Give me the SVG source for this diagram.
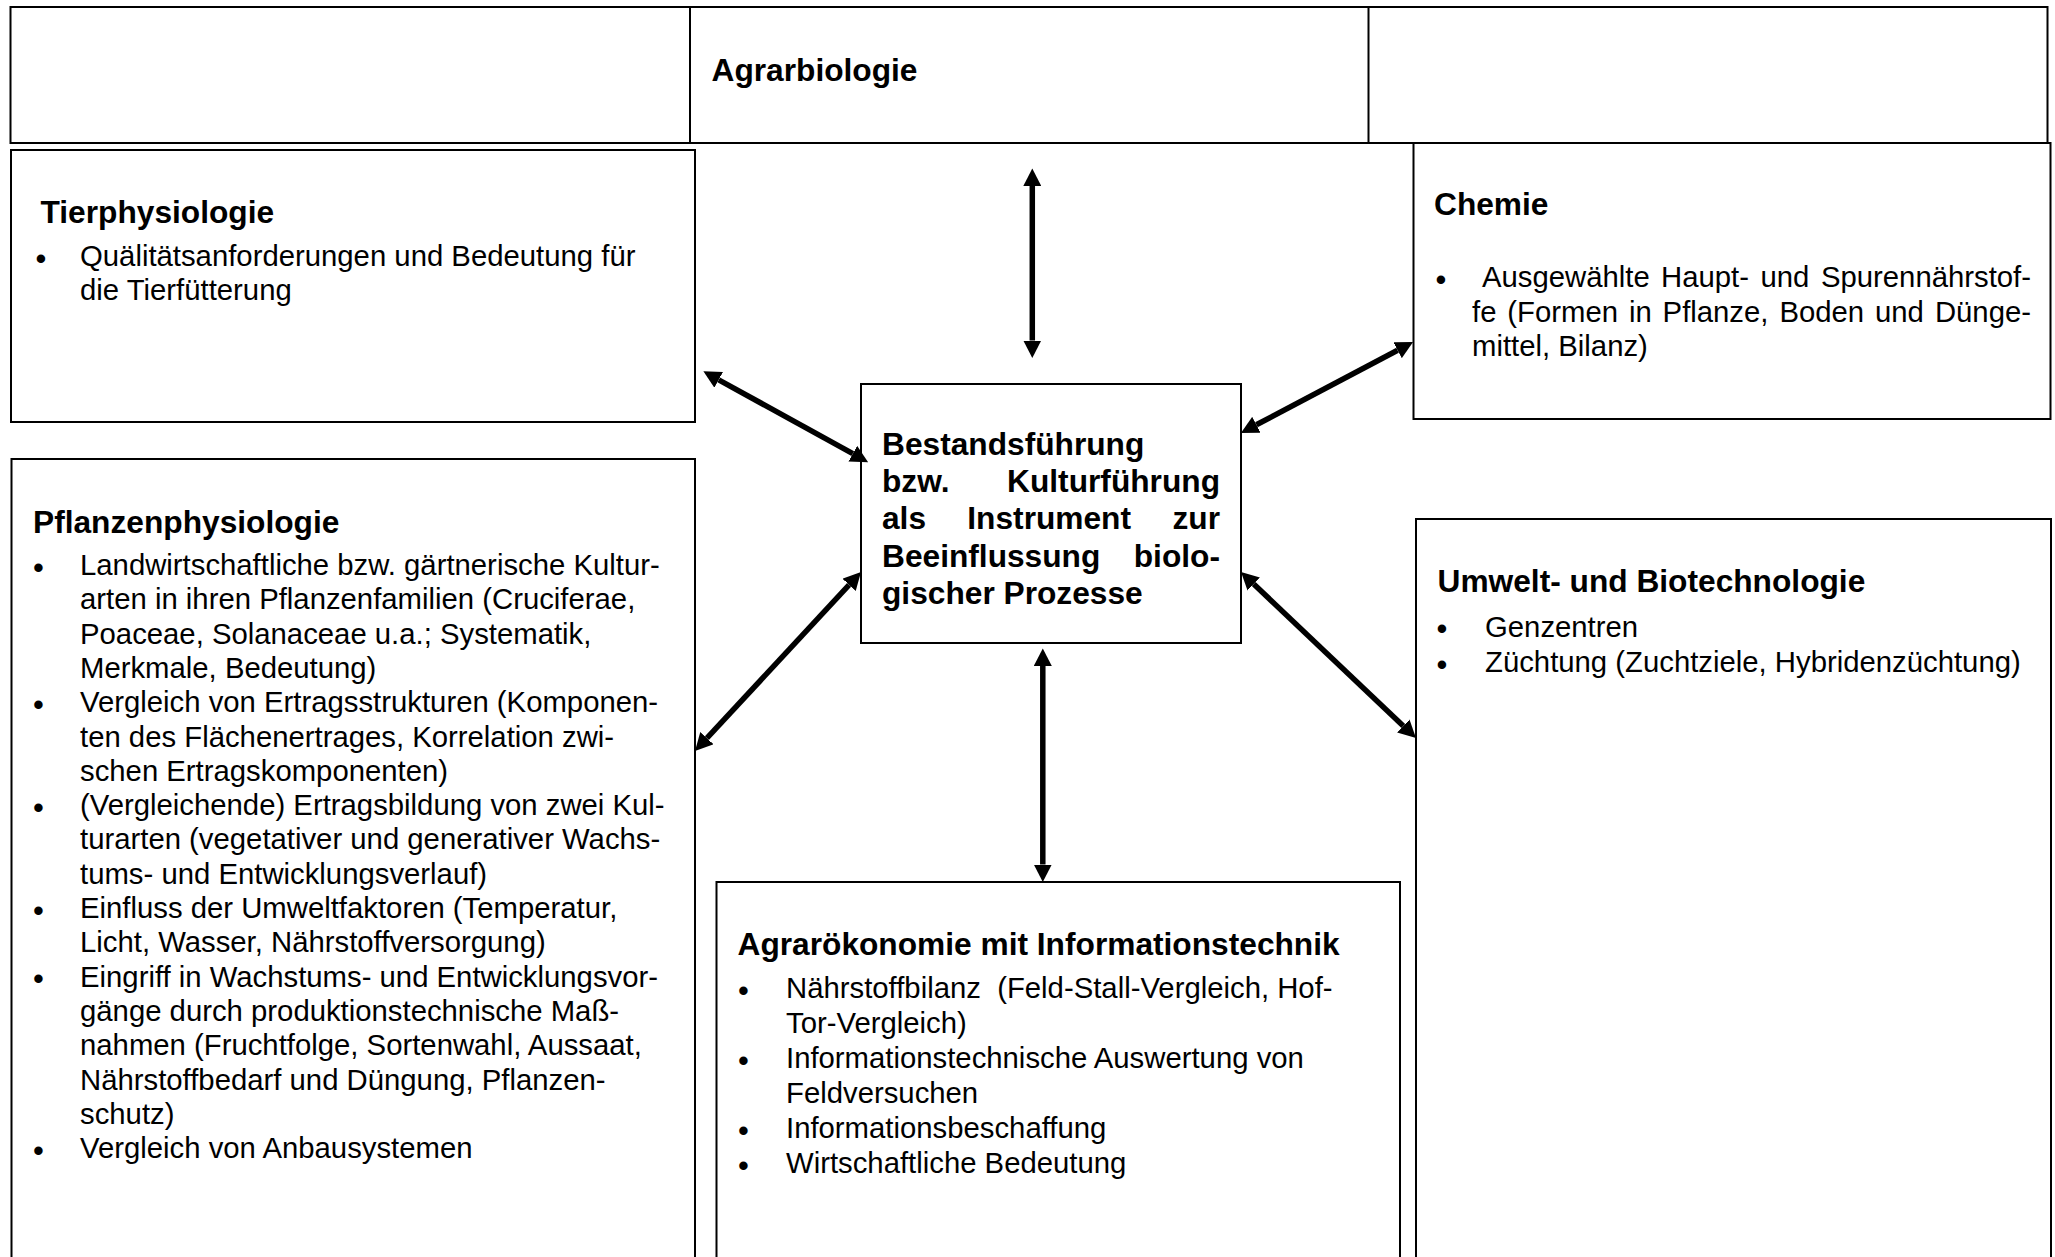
<svg xmlns="http://www.w3.org/2000/svg" width="2055" height="1257" viewBox="0 0 2055 1257">
  <style>
    .box { fill: #ffffff; stroke: #000000; stroke-width: 2; }
    .grid { fill: none; stroke: #000000; stroke-width: 2; }
    text { font-family: "Liberation Sans", Arial, sans-serif; fill: #000000; }
    .h { font-size: 31.7px; font-weight: bold; }
    .t { font-size: 29.3px; }
    .b { font-size: 31px; text-anchor: middle; }
    .c { font-size: 31.7px; font-weight: bold; }
    .arrow { stroke: #000000; stroke-width: 5.5; fill: none; marker-start: url(#head); marker-end: url(#head); }
  </style>
  <defs>
    <marker id="head" markerUnits="userSpaceOnUse" markerWidth="18" markerHeight="18" refX="0" refY="9" orient="auto-start-reverse">
      <path d="M0,0 L17.5,9 L0,18 Z" fill="#000000"/>
    </marker>
  </defs>

  <rect width="2055" height="1257" fill="#ffffff"/>

  <!-- header table -->
  <g id="header">
    <rect class="grid" x="10.5" y="7" width="2037" height="136"/>
    <line class="grid" x1="690" y1="7" x2="690" y2="143"/>
    <line class="grid" x1="1368.5" y1="7" x2="1368.5" y2="143"/>
    <text class="h" x="711.5" y="81">Agrarbiologie</text>
  </g>

  <!-- Tierphysiologie -->
  <g id="tierphysiologie">
    <rect class="box" x="11" y="150" width="684" height="272"/>
    <text class="h" x="40.5" y="222.5">Tierphysiologie</text>
    <text class="b" x="41" y="268.5">•</text>
    <text class="t" x="80" y="265.5">Quälitätsanforderungen und Bedeutung für</text>
    <text class="t" x="80" y="300">die Tierfütterung</text>
  </g>

  <!-- Chemie -->
  <g id="chemie">
    <rect class="box" x="1413.5" y="143" width="637" height="276"/>
    <text class="h" x="1434" y="215">Chemie</text>
    <text class="b" x="1441" y="289.5">•</text>
    <text class="t" y="286.5"><tspan x="1482">Ausgewählte</tspan><tspan x="1661">Haupt-</tspan><tspan x="1760.5">und</tspan><tspan x="2031" text-anchor="end">Spurennährstof-</tspan></text>
    <text class="t" y="321.5"><tspan x="1472">fe</tspan><tspan x="1507.3">(Formen</tspan><tspan x="1628.9">in</tspan><tspan x="1662.6">Pflanze,</tspan><tspan x="1779.4">Boden</tspan><tspan x="1875">und</tspan><tspan x="2031" text-anchor="end">Dünge-</tspan></text>
    <text class="t" x="1472" y="356">mittel, Bilanz)</text>
  </g>

  <!-- Bestandsführung (centre) -->
  <g id="bestandsfuehrung">
    <rect class="box" x="861" y="384" width="380" height="259"/>
    <text class="c" x="882" y="455">Bestandsführung</text>
    <text class="c" y="492.2"><tspan x="882">bzw.</tspan><tspan x="1220" text-anchor="end">Kulturführung</tspan></text>
    <text class="c" y="529.4"><tspan x="882">als</tspan><tspan x="967.3">Instrument</tspan><tspan x="1220" text-anchor="end">zur</tspan></text>
    <text class="c" y="566.6"><tspan x="882">Beeinflussung</tspan><tspan x="1220" text-anchor="end">biolo-</tspan></text>
    <text class="c" x="882" y="603.8">gischer Prozesse</text>
  </g>

  <!-- Pflanzenphysiologie -->
  <g id="pflanzenphysiologie">
    <rect class="box" x="11.5" y="459" width="683.5" height="820"/>
    <text class="h" x="33" y="532.5">Pflanzenphysiologie</text>
    <text class="b" x="38.5" y="577.5">•</text>
    <text class="t" x="80" y="575">Landwirtschaftliche bzw. gärtnerische Kultur-</text>
    <text class="t" x="80" y="609.3">arten in ihren Pflanzenfamilien (Cruciferae,</text>
    <text class="t" x="80" y="643.6">Poaceae, Solanaceae u.a.; Systematik,</text>
    <text class="t" x="80" y="677.9">Merkmale, Bedeutung)</text>
    <text class="b" x="38.5" y="714.7">•</text>
    <text class="t" x="80" y="712.2">Vergleich von Ertragsstrukturen (Komponen-</text>
    <text class="t" x="80" y="746.5">ten des Flächenertrages, Korrelation zwi-</text>
    <text class="t" x="80" y="780.8">schen Ertragskomponenten)</text>
    <text class="b" x="38.5" y="817.6">•</text>
    <text class="t" x="80" y="815.1">(Vergleichende) Ertragsbildung von zwei Kul-</text>
    <text class="t" x="80" y="849.4">turarten (vegetativer und generativer Wachs-</text>
    <text class="t" x="80" y="883.7">tums- und Entwicklungsverlauf)</text>
    <text class="b" x="38.5" y="920.5">•</text>
    <text class="t" x="80" y="918">Einfluss der Umweltfaktoren (Temperatur,</text>
    <text class="t" x="80" y="952.3">Licht, Wasser, Nährstoffversorgung)</text>
    <text class="b" x="38.5" y="989.1">•</text>
    <text class="t" x="80" y="986.6">Eingriff in Wachstums- und Entwicklungsvor-</text>
    <text class="t" x="80" y="1020.9">gänge durch produktionstechnische Maß-</text>
    <text class="t" x="80" y="1055.2">nahmen (Fruchtfolge, Sortenwahl, Aussaat,</text>
    <text class="t" x="80" y="1089.5">Nährstoffbedarf und Düngung, Pflanzen-</text>
    <text class="t" x="80" y="1123.8">schutz)</text>
    <text class="b" x="38.5" y="1160.6">•</text>
    <text class="t" x="80" y="1158.1">Vergleich von Anbausystemen</text>
  </g>

  <!-- Umwelt- und Biotechnologie -->
  <g id="umwelt-biotechnologie">
    <rect class="box" x="1416" y="519" width="635" height="760"/>
    <text class="h" x="1437.5" y="591.5">Umwelt- und Biotechnologie</text>
    <text class="b" x="1442" y="639">•</text>
    <text class="t" x="1485" y="636.5">Genzentren</text>
    <text class="b" x="1442" y="674.5">•</text>
    <text class="t" x="1485" y="672">Züchtung (Zuchtziele, Hybridenzüchtung)</text>
  </g>

  <!-- Agrarökonomie mit Informationstechnik -->
  <g id="agraroekonomie">
    <rect class="box" x="716.5" y="882" width="683.5" height="397"/>
    <text class="h" x="737.5" y="955">Agrarökonomie mit Informationstechnik</text>
    <text class="b" x="743.5" y="1000.5">•</text>
    <text class="t" x="786" y="998" xml:space="preserve" style="white-space: pre">Nährstoffbilanz  (Feld-Stall-Vergleich, Hof-</text>
    <text class="t" x="786" y="1032.5">Tor-Vergleich)</text>
    <text class="b" x="743.5" y="1070.5">•</text>
    <text class="t" x="786" y="1068">Informationstechnische Auswertung von</text>
    <text class="t" x="786" y="1102.5">Feldversuchen</text>
    <text class="b" x="743.5" y="1140.5">•</text>
    <text class="t" x="786" y="1138">Informationsbeschaffung</text>
    <text class="b" x="743.5" y="1175.5">•</text>
    <text class="t" x="786" y="1173">Wirtschaftliche Bedeutung</text>
  </g>

  <!-- double-headed connectors around the centre box -->
  <g id="connectors">
    <line class="arrow" x1="1032.3" y1="186" x2="1032.3" y2="340.5"/>
    <line class="arrow" x1="718.7" y1="379.8" x2="852.8" y2="453.7"/>
    <line class="arrow" x1="1397.6" y1="350.2" x2="1256.4" y2="424.8"/>
    <line class="arrow" x1="706.9" y1="738.2" x2="849.1" y2="584.8"/>
    <line class="arrow" x1="1253.7" y1="584" x2="1403.3" y2="726"/>
    <line class="arrow" x1="1042.8" y1="666" x2="1042.8" y2="864.5"/>
  </g>
</svg>
